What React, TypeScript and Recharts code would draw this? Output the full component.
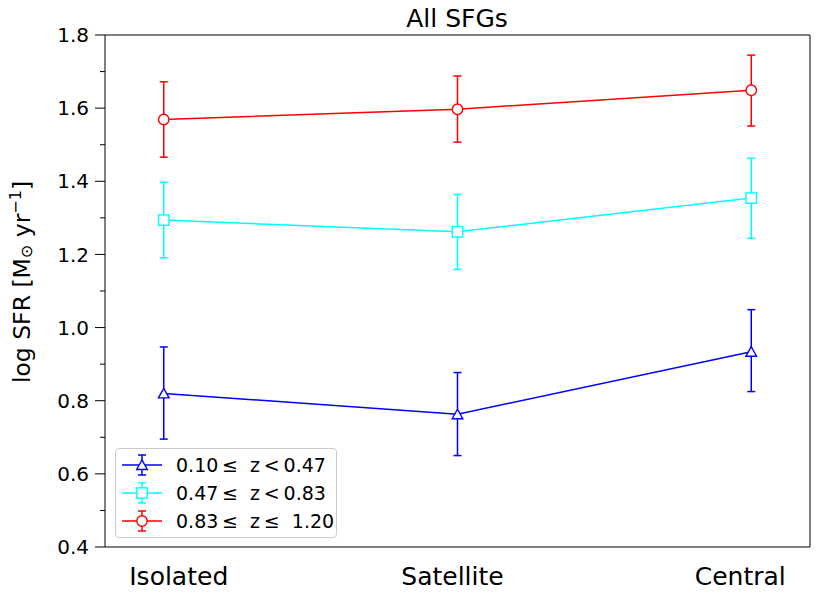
import React from "react";
import {
  LineChart,
  Line,
  XAxis,
  YAxis,
  ErrorBar,
  ReferenceArea,
  Legend,
} from "recharts";

// categories along the x axis
const CATEGORIES = ["Isolated", "Satellite", "Central"];

// 0.10 <= z < 0.47 (blue, triangles)
const LOWZ = [0.82, 0.763, 0.934];
const LOWZ_LO = [0.695, 0.65, 0.825];
const LOWZ_HI = [0.947, 0.877, 1.049];

// 0.47 <= z < 0.83 (cyan, squares)
const MIDZ = [1.294, 1.262, 1.354];
const MIDZ_LO = [1.191, 1.159, 1.244];
const MIDZ_HI = [1.397, 1.364, 1.463];

// 0.83 <= z <= 1.20 (red, circles)
const HIGHZ = [1.569, 1.597, 1.649];
const HIGHZ_LO = [1.466, 1.507, 1.551];
const HIGHZ_HI = [1.672, 1.688, 1.745];

const MAJOR_TICKS = [0.4, 0.6, 0.8, 1.0, 1.2, 1.4, 1.6, 1.8];
const MINOR_TICKS = [0.5, 0.7, 0.9, 1.1, 1.3, 1.5, 1.7];

const FONT = "'DejaVu Sans', sans-serif";

const SERIES = [
  { key: "low", label: "0.10\u2009\u2264  z\u2009<\u20090.47", color: "#0000ff", shape: "triangle" },
  { key: "mid", label: "0.47\u2009\u2264  z\u2009<\u20090.83", color: "#00ffff", shape: "square" },
  { key: "high", label: "0.83\u2009\u2264  z\u2009\u2264  1.20", color: "#ff0000", shape: "circle" },
];

const data = CATEGORIES.map((name, i) => ({
  x: i,
  name,
  low: LOWZ[i],
  lowErr: [LOWZ[i] - LOWZ_LO[i], LOWZ_HI[i] - LOWZ[i]],
  mid: MIDZ[i],
  midErr: [MIDZ[i] - MIDZ_LO[i], MIDZ_HI[i] - MIDZ[i]],
  high: HIGHZ[i],
  highErr: [HIGHZ[i] - HIGHZ_LO[i], HIGHZ_HI[i] - HIGHZ[i]],
}));

function Marker({ cx, cy, shape, color }: any) {
  if (cx == null || cy == null) return null;
  if (shape === "triangle") {
    const pts = `${cx},${cy - 5} ${cx - 5.3},${cy + 4.5} ${cx + 5.3},${cy + 4.5}`;
    return <polygon points={pts} fill="#fff" stroke={color} strokeWidth={1.4} />;
  }
  if (shape === "square") {
    return (
      <rect x={cx - 5.2} y={cy - 5.2} width={10.4} height={10.4} fill="#fff" stroke={color} strokeWidth={1.4} />
    );
  }
  return <circle cx={cx} cy={cy} r={5.2} fill="#fff" stroke={color} strokeWidth={1.4} />;
}

// matplotlib-like left axis: long ticks with labels, short minor ticks
function YTick({ x, y, payload }: any) {
  const major = MAJOR_TICKS.includes(payload.value);
  const right = x + 16;
  return (
    <g>
      <line x1={major ? right - 10 : right - 5} x2={right} y1={y} y2={y} stroke="#000" strokeWidth={1} />
      {major && (
        <text x={x} y={y} dy="0.36em" textAnchor="end" fontSize={20} fontFamily={FONT} fill="#000">
          {payload.value.toFixed(1)}
        </text>
      )}
    </g>
  );
}

// the category labels sit a little off their points in the original
const LABEL_SHIFT: Record<string, number> = { Isolated: 15, Satellite: -5, Central: -11 };

function XTick({ x, y, payload }: any) {
  const name = CATEGORIES[payload.value];
  return (
    <text x={x + (LABEL_SHIFT[name] || 0)} y={y + 38} textAnchor="middle" fontSize={25} fontFamily={FONT} fill="#000">
      {name}
    </text>
  );
}

function LegendBox() {
  return (
    <div
      style={{
        width: 220,
        height: 86,
        border: "1px solid #cccccc",
        borderRadius: 4,
        background: "rgba(255,255,255,0.8)",
        paddingTop: 2,
        boxSizing: "content-box",
        fontFamily: FONT,
        fontSize: 19,
      }}
    >
      {SERIES.map((s) => (
        <div key={s.key} style={{ display: "flex", alignItems: "center", height: 28 }}>
          <svg width={40} height={24} style={{ marginLeft: 6, marginRight: 14 }}>
            <line x1={0} x2={40} y1={12} y2={12} stroke={s.color} strokeWidth={1.5} />
            <line x1={20} x2={20} y1={2} y2={22} stroke={s.color} strokeWidth={1.5} />
            <line x1={16} x2={24} y1={2} y2={2} stroke={s.color} strokeWidth={1.5} />
            <line x1={16} x2={24} y1={22} y2={22} stroke={s.color} strokeWidth={1.5} />
            <Marker cx={20} cy={12} shape={s.shape} color={s.color} />
          </svg>
          <span style={{ whiteSpace: "pre", color: "#000" }}>{s.label}</span>
        </div>
      ))}
    </div>
  );
}

export default function App() {
  return (
    <div style={{ position: "absolute", left: 0, top: 0, width: 830, height: 599, background: "#fff" }}>
      <LineChart width={830} height={599} data={data} margin={{ top: 35, right: 20, bottom: 0, left: 0 }}>
        <XAxis
          dataKey="x"
          type="number"
          domain={[-0.2, 2.2]}
          ticks={[0, 1, 2]}
          allowDataOverflow
          axisLine={false}
          tickLine={false}
          tickSize={0}
          tickMargin={0}
          height={52}
          tick={<XTick />}
        />
        <YAxis
          type="number"
          domain={[0.4, 1.8]}
          ticks={[...MAJOR_TICKS, ...MINOR_TICKS].sort((a, b) => a - b)}
          allowDataOverflow
          interval={0}
          axisLine={false}
          tickLine={false}
          tickSize={10}
          tickMargin={6}
          width={105}
          tick={<YTick />}
        />
        <ReferenceArea
          x1={-0.2}
          x2={2.2}
          y1={0.4}
          y2={1.8}
          fill="none"
          stroke="#000"
          strokeWidth={1}
          ifOverflow="visible"
        />
        {SERIES.map((s) => (
          <Line
            key={s.key}
            dataKey={s.key}
            type="linear"
            stroke={s.color}
            strokeWidth={1.5}
            isAnimationActive={false}
            dot={(p: any) => <Marker key={`${s.key}-${p.index}`} cx={p.cx} cy={p.cy} shape={s.shape} color={s.color} />}
            activeDot={false}
          >
            <ErrorBar dataKey={`${s.key}Err`} direction="y" width={4} stroke={s.color} strokeWidth={1.5} isAnimationActive={false} />
          </Line>
        ))}
        <Legend
          layout="horizontal"
          verticalAlign="middle"
          align="center"
          content={() => <LegendBox />}
          wrapperStyle={{ left: 115, top: 448, width: 222, height: 90 }}
        />
      </LineChart>
      <svg width={830} height={599} style={{ position: "absolute", left: 0, top: 0, pointerEvents: "none" }}>
        <text x={457} y={27} textAnchor="middle" fontSize={25} fontFamily={FONT} fill="#000">
          All SFGs
        </text>
        <text
          transform="translate(30,282) rotate(-90)"
          textAnchor="middle"
          fontSize={23.5}
          fontFamily={FONT}
          fill="#000"
        >
          log SFR [M
          <tspan fontSize={16} dy={2}>{"\u2299"}</tspan>
          <tspan dy={-2}> yr</tspan>
          <tspan fontSize={16} dy={-9}>{"\u22121"}</tspan>
          <tspan dy={9}>]</tspan>
        </text>
      </svg>
    </div>
  );
}
